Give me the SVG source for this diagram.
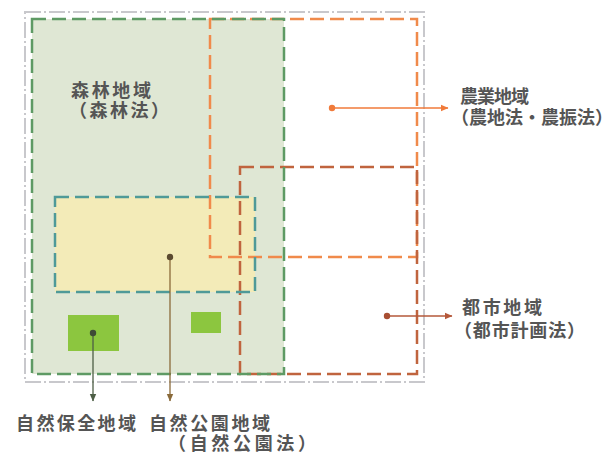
<svg xmlns="http://www.w3.org/2000/svg" width="614" height="454" viewBox="0 0 614 454">
<style>
.lbl{font-family:"Noto Sans CJK JP","Noto Sans CJK SC",sans-serif;font-weight:bold;fill:#555;font-size:18px}
.dash{fill:none;stroke-dasharray:14 6}
</style>
<defs>
<marker id="aOr" markerWidth="8" markerHeight="8" refX="7" refY="4" orient="auto" markerUnits="userSpaceOnUse"><path d="M0,0.8 L7.5,4 L0,7.2 Z" fill="#f07a3a"/></marker>
<marker id="aBr" markerWidth="8" markerHeight="8" refX="7" refY="4" orient="auto" markerUnits="userSpaceOnUse"><path d="M0,0.8 L7.5,4 L0,7.2 Z" fill="#b5583a"/></marker>
<marker id="aPk" markerWidth="8" markerHeight="8" refX="7" refY="4" orient="auto" markerUnits="userSpaceOnUse"><path d="M0,0.8 L7.5,4 L0,7.2 Z" fill="#8a6a3a"/></marker>
<marker id="aCv" markerWidth="8" markerHeight="8" refX="7" refY="4" orient="auto" markerUnits="userSpaceOnUse"><path d="M0,0.8 L7.5,4 L0,7.2 Z" fill="#4d5e45"/></marker>
</defs>
<rect width="614" height="454" fill="#fff"/>
<g id="outer">
<rect x="25" y="12" width="399" height="370" fill="none" stroke="#c8c8cc" stroke-width="2" stroke-dasharray="16 3 2 3"/>
</g>
<g id="forest">
<rect x="32" y="19" width="252" height="355" fill="#dfe7d4"/>
</g>
<g id="park">
<rect x="55" y="197" width="200" height="95" fill="#f3ebb8"/>
</g>
<g id="conservation">
<rect x="68" y="315" width="51" height="36" fill="#8cc63f"/>
<rect x="191" y="312" width="30" height="21" fill="#8cc63f"/>
</g>
<g id="borders">
<rect class="dash" x="210" y="19" width="207" height="238" stroke="#f08a4b" stroke-width="2.5"/>
<rect class="dash" x="240" y="167" width="177" height="207" stroke="#c0643e" stroke-width="2.5"/>
<rect class="dash" x="55" y="197" width="200" height="95" stroke="#4f9a98" stroke-width="2.5"/>
<rect class="dash" x="32" y="19" width="252" height="355" stroke="#5e9a64" stroke-width="2.5"/>
</g>
<g id="connectors">
<line x1="332" y1="108" x2="448" y2="108" stroke="#f07a3a" stroke-width="1.3" marker-end="url(#aOr)"/>
<circle cx="332" cy="108" r="3.2" fill="#f07a3a"/>
<line x1="387" y1="316" x2="452" y2="316" stroke="#b5583a" stroke-width="1.3" marker-end="url(#aBr)"/>
<circle cx="387" cy="316" r="3.2" fill="#a84e32"/>
<line x1="170" y1="257" x2="170" y2="401" stroke="#8a6a3a" stroke-width="1.3" marker-end="url(#aPk)"/>
<circle cx="170" cy="257" r="3.2" fill="#5b4a30"/>
<line x1="93" y1="333" x2="93" y2="401" stroke="#4d5e45" stroke-width="1.3" marker-end="url(#aCv)"/>
<circle cx="93" cy="333" r="3.2" fill="#3e4a36"/>
</g>
<g id="label-forest">
<text class="lbl"><tspan x="71" y="97" textLength="80" lengthAdjust="spacing">森林地域</tspan><tspan x="69" y="117" textLength="100" lengthAdjust="spacing">（森林法）</tspan></text>
</g>
<g id="label-agri">
<text class="lbl" font-size="17"><tspan x="460" y="103" textLength="69" lengthAdjust="spacing">農業地域</tspan><tspan x="451" y="124" textLength="162" lengthAdjust="spacing">（農地法・農振法）</tspan></text>
</g>
<g id="label-urban">
<text class="lbl"><tspan x="462" y="314" textLength="80" lengthAdjust="spacing">都市地域</tspan><tspan x="454" y="337" textLength="131" lengthAdjust="spacing">（都市計画法）</tspan></text>
</g>
<g id="label-cons">
<text class="lbl" x="16" y="430" font-size="19" textLength="120" lengthAdjust="spacing">自然保全地域</text>
</g>
<g id="label-park">
<text class="lbl" font-size="19"><tspan x="149" y="430" textLength="121" lengthAdjust="spacing">自然公園地域</tspan><tspan x="168" y="450" textLength="148" lengthAdjust="spacing">（自然公園法）</tspan></text>
</g>
</svg>
